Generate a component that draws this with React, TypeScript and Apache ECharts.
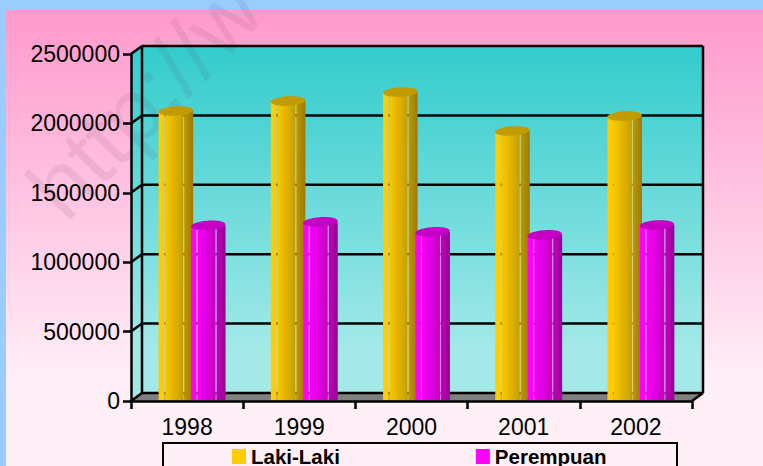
import React, { useEffect, useRef } from "react";
import * as echarts from "echarts";

const years = ["1998", "1999", "2000", "2001", "2002"];
const lakiLaki = [2089000, 2161000, 2226000, 1945000, 2053000];
const perempuan = [1265000, 1290000, 1218000, 1196000, 1268000];
const gridValues = [0, 500000, 1000000, 1500000, 2000000, 2500000];
const FONT = '"Liberation Sans", Arial, sans-serif';
const DX = 11;
const DY = -8;

function wallSeries() {
  return {
    type: "custom",
    z: 1,
    silent: true,
    coordinateSystem: "cartesian2d",
    data: [[years[0], 0]],
    encode: { x: 0, y: 1 },
    renderItem: (params: any, api: any) => {
      const cs = params.coordSys;
      const l = cs.x;
      const r = cs.x + cs.width;
      const b = api.coord([0, 0])[1];
      const t = api.coord([0, 2500000])[1];
      const fill = new echarts.graphic.LinearGradient(0, t + DY, 0, b + DY - 40, [
        { offset: 0, color: "#33CCCC" },
        { offset: 1, color: "#A4E9E8" },
      ], true);
      return {
        type: "group",
        children: [
          { type: "polygon", shape: { points: [[l + DX, t + DY], [r + DX, t + DY], [r + DX, b + DY], [l + DX, b + DY]] }, style: { fill } },
          { type: "polygon", shape: { points: [[l, t], [l + DX, t + DY], [l + DX, b + DY], [l, b]] }, style: { fill } },
          { type: "polygon", shape: { points: [[l + DX, b + DY], [r + DX, b + DY], [r, b], [l, b]] }, style: { fill: "#808080" } },
          { type: "line", shape: { x1: l + DX, y1: t + DY, x2: l + DX, y2: b + DY }, style: { stroke: "#000", lineWidth: 2.5 } },
          { type: "line", shape: { x1: r + DX, y1: t + DY, x2: r + DX, y2: b + DY }, style: { stroke: "#000", lineWidth: 2.5 } },
          { type: "line", shape: { x1: r, y1: b, x2: r + DX, y2: b + DY }, style: { stroke: "#000", lineWidth: 2.5 } },
        ],
      };
    },
  };
}

function gridSeries() {
  return {
    type: "custom",
    z: 2,
    silent: true,
    coordinateSystem: "cartesian2d",
    data: gridValues.map((v) => [years[0], v]),
    encode: { x: 0, y: 1 },
    renderItem: (params: any, api: any) => {
      const cs = params.coordSys;
      const l = cs.x;
      const r = cs.x + cs.width;
      const y = api.coord([0, api.value(1)])[1];
      return {
        type: "group",
        children: [
          { type: "line", shape: { x1: l, y1: y, x2: l + DX, y2: y + DY }, style: { stroke: "#000", lineWidth: 2.5 } },
          { type: "line", shape: { x1: l + DX, y1: y + DY, x2: r + DX, y2: y + DY }, style: { stroke: "#000", lineWidth: 2.5 } },
        ],
      };
    },
  };
}

function cylinderSeries(name: string, values: number[], offset: number, z: number, c: any) {
  return {
    type: "custom",
    name,
    z,
    coordinateSystem: "cartesian2d",
    itemStyle: { color: c.legend },
    data: values.map((v, i) => [years[i], v]),
    encode: { x: 0, y: 1 },
    renderItem: (_: any, api: any) => {
      const top = api.coord([api.value(0), api.value(1)]);
      const base = api.coord([api.value(0), 0]);
      const w = 34.5;
      const x0 = top[0] + offset - w / 2;
      const y0 = top[1];
      const h = base[1] - 1 - y0;
      const fill = new echarts.graphic.LinearGradient(x0, 0, x0 + w, 0, [
        { offset: 0, color: c.left },
        { offset: 0.12, color: c.left },
        { offset: 0.6, color: c.mid },
        { offset: 1, color: c.right },
      ], true);
      const segs = [[0, 5.5], [6.5, 24.5], [25.5, 34.5]];
      const slits = [5.5, 24.5];
      return {
        type: "group",
        children: [
          ...segs.map((s) => ({ type: "rect", shape: { x: x0 + s[0], y: y0, width: s[1] - s[0], height: h }, style: { fill } })),
          ...slits.map((s) => ({ type: "rect", shape: { x: x0 + s, y: y0, width: 1, height: h }, style: { fill: c.slit, opacity: 0.75 } })),
          {
            type: "ellipse",
            originX: x0 + w / 2,
            originY: y0,
            rotation: 0.06,
            shape: { cx: x0 + w / 2, cy: y0, rx: w / 2, ry: 4.7 },
            style: { fill: c.top },
          },
        ],
      };
    },
  };
}

export default function App() {
  const ref = useRef<HTMLDivElement>(null);
  useEffect(() => {
    document.body.style.margin = "0";
    const chart = echarts.init(ref.current!, undefined, { renderer: "svg" });
    chart.setOption({
      animation: false,
      backgroundColor: "#99CCFF",
      textStyle: { fontFamily: FONT },
      grid: { left: 131, top: 54, width: 561, height: 347, containLabel: false },
      graphic: [
        {
          type: "rect",
          z: -10,
          silent: true,
          shape: { x: 6, y: 10, width: 757, height: 456 },
          style: {
            fill: new echarts.graphic.LinearGradient(0, 10, 0, 385, [
              { offset: 0, color: "#FF99CC" },
              { offset: 1, color: "#FFF0F8" },
            ], true),
          },
        },
        {
          type: "text",
          z: 1.5,
          silent: true,
          x: 76,
          y: 234,
          rotation: (46 * Math.PI) / 180,
          style: {
            text: "http://w",
            font: `90px ${FONT}`,
            fill: "rgba(90,60,90,0.10)",
            textVerticalAlign: "bottom",
            textAlign: "left",
          },
        },
        {
          type: "rect",
          z: 4,
          silent: true,
          shape: { x: 163, y: 443, width: 514, height: 40 },
          style: { fill: "#FFF0F8", stroke: "#000", lineWidth: 2 },
        },
      ],
      legend: {
        z: 6,
        left: 227,
        top: 441,
        itemWidth: 14,
        itemHeight: 15,
        itemGap: 136,
        icon: "rect",
        data: ["Laki-Laki", "Perempuan"],
        textStyle: { fontFamily: FONT, fontWeight: "bold", fontSize: 20.5, color: "#000", padding: [0, 0, 0, 0] },
      },
      xAxis: {
        type: "category",
        z: 5,
        data: years,
        axisLine: { lineStyle: { color: "#000", width: 2.5 } },
        axisTick: { show: true, alignWithLabel: false, length: 8, lineStyle: { color: "#000", width: 2.5 } },
        axisLabel: { color: "#000", fontFamily: FONT, fontSize: 23, margin: 14 },
      },
      yAxis: {
        type: "value",
        z: 5,
        min: 0,
        max: 2500000,
        interval: 500000,
        splitLine: { show: false },
        axisLine: { show: true, lineStyle: { color: "#000", width: 2.5 } },
        axisTick: { show: true, length: 8, lineStyle: { color: "#000", width: 2.5 } },
        axisLabel: { color: "#000", fontFamily: FONT, fontSize: 23, margin: 11, formatter: (v: number) => String(v) },
      },
      series: [
        wallSeries(),
        gridSeries(),
        cylinderSeries("Laki-Laki", lakiLaki, -11.2, 3, {
          legend: "#FFCC00", left: "#FFCC00", mid: "#D2A800", right: "#9C7A00", slit: "#E8CF50", top: "#C09C00",
        }),
        cylinderSeries("Perempuan", perempuan, 21.2, 4, {
          legend: "#FF00FF", left: "#FF00FF", mid: "#D000D0", right: "#9A009A", slit: "#F070F0", top: "#C400C4",
        }),
      ],
    });
    return () => chart.dispose();
  }, []);
  return <div ref={ref} style={{ position: "absolute", left: 0, top: 0, width: 763, height: 466, overflow: "hidden" }} />;
}
